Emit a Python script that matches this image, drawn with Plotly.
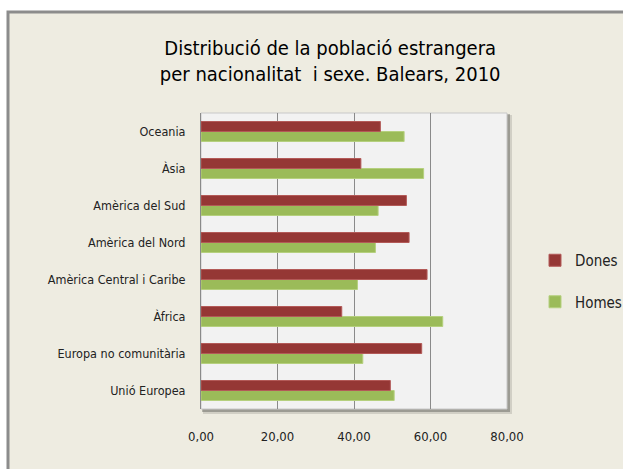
import plotly.graph_objects as go

# dades
categories = ['Unió Europea', 'Europa no comunitària', 'Àfrica', 'Amèrica Central i Caribe',
              'Amèrica del Nord', 'Amèrica del Sud', 'Àsia', 'Oceania']
dones = [49.5, 57.7, 36.8, 59.1, 54.4, 53.7, 41.8, 46.9]
homes = [50.5, 42.3, 63.2, 40.9, 45.6, 46.3, 58.2, 53.1]
x_ticks = [0, 20, 40, 60, 80]
x_ticktext = ['0,00', '20,00', '40,00', '60,00', '80,00']

# mida de la zona del grafic (px)
W, H = 623, 469
L, R, T, B = 201, 116, 113, 60
PW, PH = W - L - R, H - T - B


def px_x(p):
    return (p - L) / PW


def px_y(p):
    return (H - B - p) / PH


FONT = 'DejaVu Sans Condensed, Liberation Sans Narrow, Arial Narrow, Roboto, sans-serif'

fig = go.Figure()
fig.add_trace(go.Bar(y=categories, x=homes, name='Homes', orientation='h',
                     marker=dict(color='#9BBB59', line=dict(color='#B5D07E', width=1)),
                     legendgroup='h', legendrank=2))
fig.add_trace(go.Bar(y=categories, x=dones, name='Dones', orientation='h',
                     marker=dict(color='#953735', line=dict(color='#B35A58', width=1)),
                     legendgroup='d', legendrank=1))

shapes = [
    # marc exterior
    dict(type='rect', xref='paper', yref='paper', layer='below',
         x0=px_x(8), x1=px_x(640), y0=px_y(490), y1=px_y(12),
         fillcolor='#EEECE1', line=dict(color='#8C8C8C', width=3)),
    # ombra
    dict(type='rect', xref='paper', yref='paper', layer='below',
         x0=px_x(203), x1=px_x(512), y0=px_y(414), y1=px_y(115),
         fillcolor='rgba(0,0,0,0.12)', line=dict(width=0)),
    dict(type='rect', xref='paper', yref='paper', layer='below',
         x0=px_x(202), x1=px_x(510), y0=px_y(412), y1=px_y(114),
         fillcolor='rgba(0,0,0,0.25)', line=dict(width=0)),
    # zona del grafic
    dict(type='rect', xref='paper', yref='paper', layer='below',
         x0=0, x1=1, y0=0, y1=1,
         fillcolor='#F2F2F2', line=dict(color='#C8C8C8', width=1)),
]

fig.update_layout(
    width=W, height=H,
    margin=dict(l=L, r=R, t=T, b=B, autoexpand=False),
    paper_bgcolor='white',
    plot_bgcolor='rgba(0,0,0,0)',
    barmode='group',
    bargap=0.46,
    bargroupgap=0,
    shapes=shapes,
    title=dict(text='Distribució de la població estrangera<br>per nacionalitat  i sexe. Balears, 2010',
               x=0.53, xanchor='center', y=1 - 55 / H, yanchor='top', yref='container',
               font=dict(family=FONT, size=20, color='#000000')),
    xaxis=dict(range=[0, 80], tickvals=x_ticks, ticktext=x_ticktext,
               showgrid=True, gridcolor='#8A8A8A', gridwidth=1,
               zeroline=False, showline=False, ticks='',
               ticklabelstandoff=18,
               tickfont=dict(family=FONT, size=13, color='#222222')),
    yaxis=dict(showgrid=False, zeroline=False, showline=True, linecolor='#8A8A8A',
               linewidth=1, ticks='', ticklabelstandoff=12,
               tickfont=dict(family=FONT, size=12.5, color='#222222')),
    legend=dict(xref='container', yref='container', x=535 / W, xanchor='left',
                y=1 - 244 / H, yanchor='top',
                traceorder='grouped', tracegroupgap=19,
                bgcolor='rgba(0,0,0,0)',
                font=dict(family=FONT, size=15, color='#222222')),
)

# sense marge del body, perque la figura comenci a (0, 0)
fig.write_html('out.html', config={'displayModeBar': False},
               post_script="document.body.style.margin='0';")
